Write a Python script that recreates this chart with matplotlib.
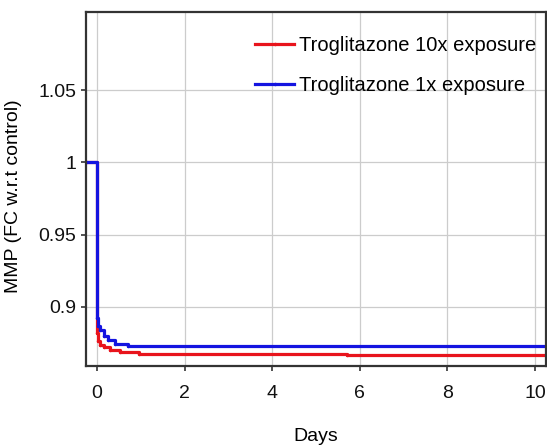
import numpy as np
import matplotlib.pyplot as plt

plt.rcParams['font.family'] = ['Liberation Sans', 'DejaVu Sans']

# --- data (step curves)
days_10x = [-0.25, 0.0, 0.03, 0.08, 0.15, 0.3, 0.52, 0.95, 5.7, 10.25]
mmp_10x = [1.0, 0.882, 0.8765, 0.8735, 0.872, 0.870, 0.8687, 0.8675, 0.8667, 0.8667]

days_1x = [-0.25, 0.0, 0.03, 0.07, 0.15, 0.25, 0.41, 0.71, 10.25]
mmp_1x = [1.0, 0.892, 0.8865, 0.884, 0.880, 0.877, 0.874, 0.8728, 0.8728]

yticks = [0.9, 0.95, 1.0, 1.05]
ytick_labels = ['0.9', '0.95', '1', '1.05']
xticks = [0, 2, 4, 6, 8, 10]

fig = plt.figure(figsize=(5.47, 4.47), dpi=100)
ax = fig.add_axes([0.1572, 0.1812, 0.841, 0.792])

ax.plot(days_10x, mmp_10x, color='#e8141c', lw=2.3, drawstyle='steps-post',
        marker='.', markersize=3, label='Troglitazone 10x exposure')
ax.plot(days_1x, mmp_1x, color='#1414e0', lw=2.3, drawstyle='steps-post',
        marker='.', markersize=3, label='Troglitazone 1x exposure')

ax.set_xlim(-0.25, 10.25)
ax.set_ylim(0.859, 1.104)
ax.set_xticks(xticks)
ax.set_yticks(yticks)
ax.set_yticklabels(ytick_labels)
ax.tick_params(labelsize=14, length=3.5, width=1.2,
               color='#333333', labelcolor='#111111')
ax.tick_params(axis='x', pad=10)
ax.tick_params(axis='y', pad=3.5)

ax.grid(True, color='#cccccc', linewidth=0.9)
ax.set_axisbelow(True)
for s in ax.spines.values():
    s.set_color('#333333')
    s.set_linewidth(1.6)

ax.set_xlabel('Days', fontsize=14, va='top')
ax.set_ylabel('MMP (FC w.r.t control)', fontsize=14)
ax.xaxis.set_label_coords(0.5, -0.176)
ax.yaxis.set_label_coords(-0.139, 0.48)

ax.legend(loc='upper right', frameon=False, fontsize=14.5, handlelength=1.9,
          numpoints=1, labelspacing=1.05, handletextpad=0.25,
          bbox_to_anchor=(1.011, 0.975), borderaxespad=0.35)

fig.savefig('out.png', dpi=100)
